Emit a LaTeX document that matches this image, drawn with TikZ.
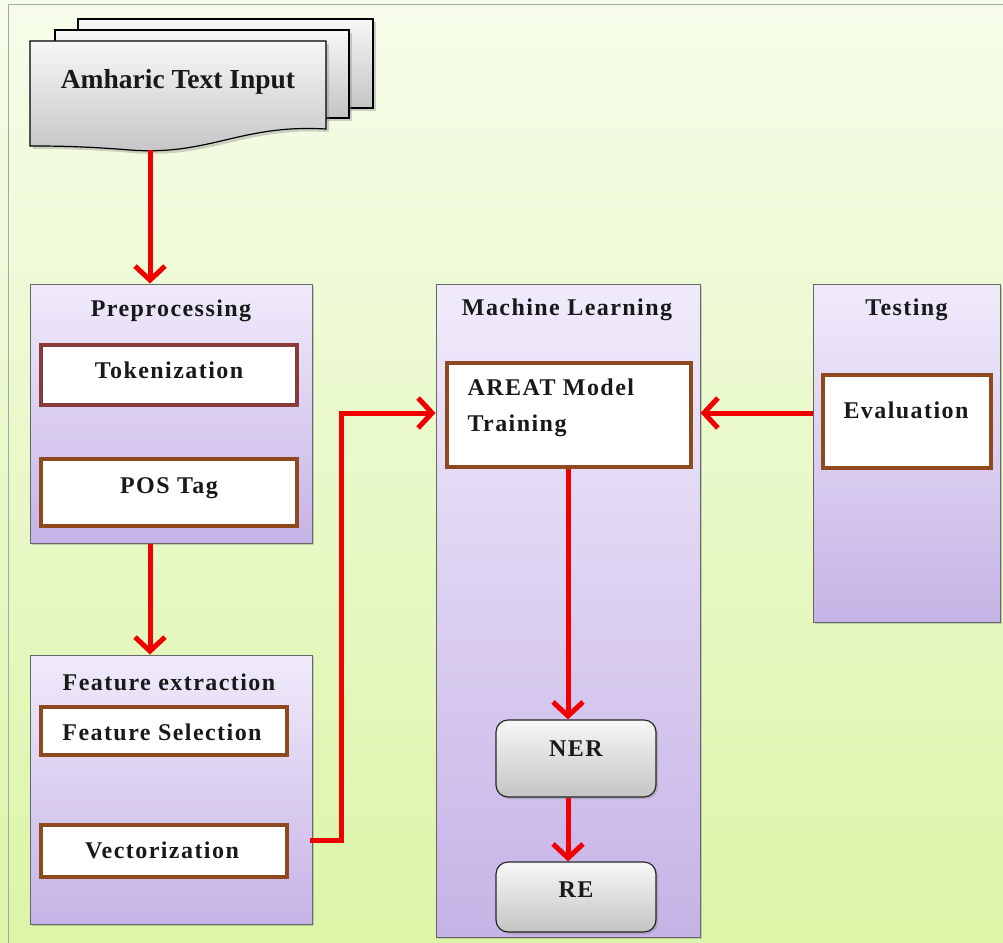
\documentclass[tikz,border=0pt]{standalone}
\usepackage{fontspec}
\setmainfont{Liberation Serif}
\newfontfamily\lblfont[LetterSpace=6]{Liberation Serif}
\usetikzlibrary{arrows.meta,shadows}
\definecolor{bgtop}{HTML}{F6FCEA}
\definecolor{bgbot}{HTML}{DCF5A8}
\definecolor{lavtop}{HTML}{F0EBFB}
\definecolor{lavbot}{HTML}{C6B3E6}
\definecolor{boxbrown}{HTML}{8E4A1E}
\definecolor{boxred}{HTML}{8B3A3A}
\definecolor{arrred}{HTML}{F00000}
\definecolor{grtop}{HTML}{F7F7F7}
\definecolor{grbot}{HTML}{C4C4C4}
\begin{document}
\begin{tikzpicture}[x=1pt,y=-1pt,
  txt/.style={font=\lblfont\fontsize{24}{28}\selectfont\bfseries, text=black!90},
  container/.style={draw=gray!80!black, line width=1pt, top color=lavtop, bottom color=lavbot,
     drop shadow={shadow xshift=2pt, shadow yshift=-2pt, opacity=0.35}},
  inner/.style={draw=boxbrown, line width=4pt, fill=white, txt},
  roundbox/.style={draw=black!85, line width=1.2pt, rounded corners=12pt, top color=grtop, bottom color=grbot, txt,
     drop shadow={shadow xshift=2pt, shadow yshift=-2pt, opacity=0.35}},
  sheet/.style={draw=black, line width=1.2pt, top color=grtop, bottom color=grbot,
     drop shadow={shadow xshift=3pt, shadow yshift=-3pt, opacity=0.35}},
  arr/.style={draw=arrred, line width=5pt, -{Straight Barb[length=14pt,width=30pt,line width=5pt]}}
]
\useasboundingbox (0,0) rectangle (1003,942);
% background
\shade[top color=bgtop, bottom color=bgbot] (0,0) rectangle (1003,942);
\draw[gray!70, line width=1pt] (8,945) -- (8,5) -- (1006,5);

% document stack
\draw[sheet] (78,19) rectangle (373,108);
\draw[sheet] (55,30) rectangle (349,118);
\draw[sheet] (30,41) -- (326,41) -- (326,129)
   .. controls (240,124) and (210,156) .. (130,150)
   .. controls (80,146) and (50,146) .. (30,146) -- cycle;
\node[txt, font=\fontsize{27.5}{30}\selectfont\bfseries] (doc) at (178,82) {Amharic Text Input};
\coordinate (docb) at (150,150);

% Preprocessing
\node[container, minimum width=282pt, minimum height=259pt] (pre) at (171,413.5) {};
\node[txt] (pret) at (171,311) {Preprocessing};
\node[inner, draw=boxred, minimum width=256pt, minimum height=60pt] (tok) at (169,375) {};
\node[txt] (tokt) at (169,370) {Tokenization};
\node[inner, minimum width=256pt, minimum height=67pt] (pos) at (169,492.5) {};
\node[txt] (post) at (169,488) {POS Tag};

% Feature extraction
\node[container, minimum width=282pt, minimum height=269pt] (fe) at (171,789.5) {};
\node[txt] (fet) at (169,682) {Feature extraction};
\node[inner, minimum width=246pt, minimum height=48pt] (fs) at (164,731) {};
\node[txt] (fst) at (162,732) {Feature Selection};
\node[inner, minimum width=246pt, minimum height=52pt] (vec) at (164,851) {};
\node[txt] (vect) at (162,850) {Vectorization};

% Machine Learning
\node[container, minimum width=264pt, minimum height=653pt] (ml) at (568,610.5) {};
\node[txt] (mlt) at (567,310) {Machine Learning};
\node[inner, minimum width=244pt, minimum height=104pt] (areat) at (569,415) {};
\node[txt, anchor=west, align=left, font=\lblfont\fontsize{24}{36}\selectfont\bfseries] (areatt) at (464,408) {AREAT Model\\Training};
\node[roundbox, minimum width=160pt, minimum height=77pt] (ner) at (576,758.5) {};
\node[txt] (nert) at (576,749) {NER};
\node[roundbox, minimum width=160pt, minimum height=70pt] (re) at (576,897) {};
\node[txt] (ret) at (576,890) {RE};

% Testing
\node[container, minimum width=187pt, minimum height=338pt] (test) at (906.5,453) {};
\node[txt] (testt) at (906.5,310) {Testing};
\node[inner, minimum width=168pt, minimum height=93pt] (eval) at (907,421.5) {};
\node[txt] (evalt) at (906,410) {Evaluation};

% connectors
\coordinate (mlx) at (568,0);
\draw[arr] (docb) -- (pre.north -| docb);
\draw[arr] (pre.south -| docb) -- (fe.north -| docb);
\coordinate (v1) at (310,840);
\coordinate (v2) at (341,413);
\draw[arr] (v1) -| (v2) -- (v2 -| ml.west);
\coordinate (t1) at (813,413);
\draw[arr] (t1) -- (t1 -| ml.east);
\draw[arr] (areat.south -| mlx) -- (ner.north -| mlx);
\draw[arr] (ner.south -| mlx) -- (re.north -| mlx);
\end{tikzpicture}
\end{document}
